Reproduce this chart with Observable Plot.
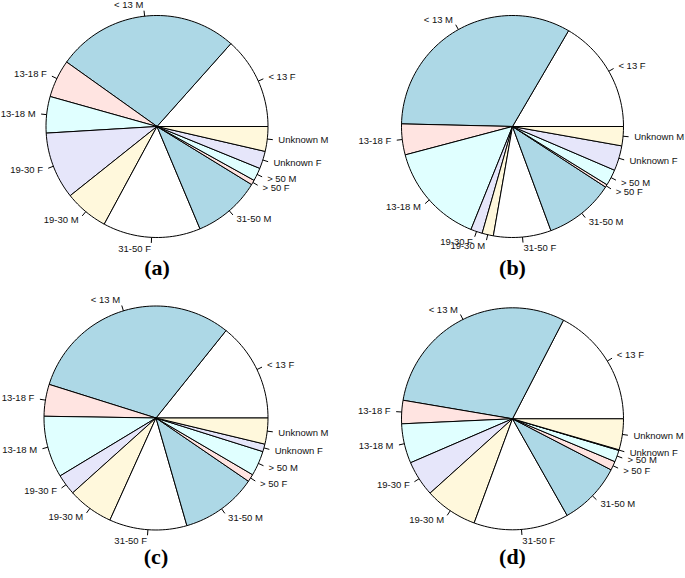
<!DOCTYPE html>
<html><head><meta charset="utf-8">
<script src="https://cdn.jsdelivr.net/npm/d3@7"></script>
<script src="https://cdn.jsdelivr.net/npm/@observablehq/plot@0.6"></script>
<style>
body{margin:0;background:#fff;}
#grid{display:grid;grid-template-columns:342px 343px;grid-template-rows:289px 289px;width:685px;}
#grid svg{overflow:visible;}
</style></head><body><div id="grid"></div>
<script>
// Slice categories, counter-clockwise from 3 o'clock (R pie order)
const categories = ["< 13 F","< 13 M","13-18 F","13-18 M","19-30 F","19-30 M","31-50 F","31-50 M","> 50 F","> 50 M","Unknown F","Unknown M"];
// Shares (percent)
const sharesA = [13.4, 26.7, 5.5, 5.3, 9.75, 6.4, 14.2, 9.9, 0.7, 1.9, 2.55, 3.6];
const sharesB = [16.6, 33.1, 4.5, 14.8, 1.7, 1.65, 8.4, 10.2, 0.4, 2.35, 3.65, 2.8];
const sharesC = [14.25, 30.9, 4.6, 8.9, 3.0, 6.6, 11.2, 11.0, 1.1, 3.6, 1.1, 3.75];
const sharesD = [17.4, 29.9, 3.4, 5.75, 5.2, 7.7, 13.8, 9.2, 1.3, 1.7, 0.1, 4.5];
const panelLabels = ["(a)", "(b)", "(c)", "(d)"];

// styling
const palette = ["white", "lightblue", "mistyrose", "lightcyan", "lavender", "cornsilk"];
const layouts = [
  {w: 342, cx: 156.5, cy: 126, r: 111},
  {w: 343, cx: 170, cy: 126, r: 111},
  {w: 342, cx: 155.5, cy: 128.5, r: 112},
  {w: 343, cx: 170, cy: 129.3, r: 111}
];

function pie(values, caption, lay) {
  const total = d3.sum(values);
  let cum = 0;
  const poly = [], ticks = [];
  values.forEach((v, i) => {
    const cat = categories[i], col = palette[i % palette.length];
    const a0 = cum / total * 2 * Math.PI; cum += v; const a1 = cum / total * 2 * Math.PI;
    const n = Math.max(2, Math.floor(200 * (v / total)));
    poly.push({cat, col, x: 0, y: 0});
    for (let k = 0; k <= n; k++) {
      const t = a0 + (a1 - a0) * k / n;
      poly.push({cat, col, x: Math.cos(t), y: Math.sin(t)});
    }
    poly.push({cat, col, x: 0, y: 0});
    const m = (a0 + a1) / 2;
    ticks.push({cat, ux: Math.cos(m), uy: Math.sin(m)});
  });
  const labelStyle = {fontFamily: "Liberation Sans, Arial, sans-serif", fontSize: 9.5, fill: "#111"};
  return Plot.plot({
    width: lay.w, height: 289, margin: 0,
    x: {domain: [-1, 1], range: [lay.cx - lay.r, lay.cx + lay.r], axis: null},
    y: {domain: [-1, 1], range: [lay.cy + lay.r, lay.cy - lay.r], axis: null},
    color: {type: "identity"},
    style: {background: "white", overflow: "visible"},
    marks: [
      Plot.line(poly, {x: "x", y: "y", z: "cat", fill: "col", stroke: "black", strokeWidth: 1, strokeLinejoin: "miter"}),
      Plot.link(ticks, {x1: d => d.ux, y1: d => d.uy, x2: d => 1.05 * d.ux, y2: d => 1.05 * d.uy, stroke: "black", strokeWidth: 1}),
      Plot.text(ticks.filter(d => d.ux >= 0), {x: d => 1.1 * d.ux, y: d => 1.1 * d.uy, text: "cat", textAnchor: "start", ...labelStyle}),
      Plot.text(ticks.filter(d => d.ux < 0), {x: d => 1.1 * d.ux, y: d => 1.1 * d.uy, text: "cat", textAnchor: "end", ...labelStyle}),
      Plot.text([caption], {x: () => 0, frameAnchor: "bottom", dy: -15, text: d => d, fontFamily: "Liberation Serif, Times New Roman, serif", fontWeight: "bold", fontSize: 22, fill: "black"})
    ]
  });
}

const grid = document.getElementById("grid");
[sharesA, sharesB, sharesC, sharesD].forEach((s, i) => {
  grid.appendChild(pie(s, panelLabels[i], layouts[i]));
});
</script></body></html>
